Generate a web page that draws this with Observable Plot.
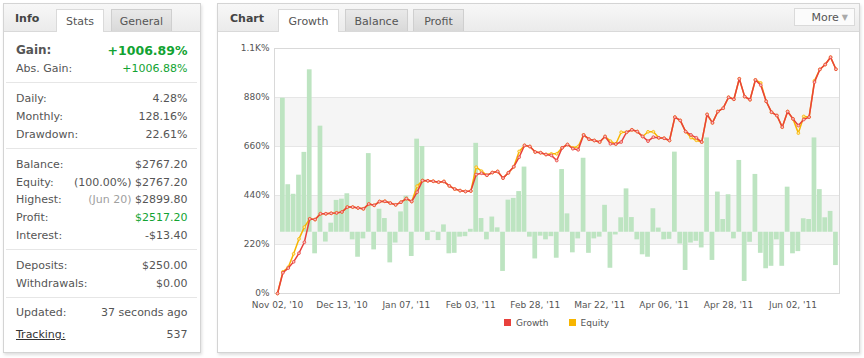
<!DOCTYPE html>
<html><head><meta charset="utf-8">
<script src="https://cdn.jsdelivr.net/npm/d3@7"></script>
<script src="https://cdn.jsdelivr.net/npm/@observablehq/plot@0.6"></script>
<style>
body{margin:0;background:#fff;font-family:"DejaVu Sans",sans-serif;}
#root{position:relative;width:864px;height:358px;overflow:hidden;background:#fff;}
.panel{position:absolute;box-sizing:border-box;border:1px solid #d4d4d4;background:#fff;box-shadow:1px 2px 3px rgba(0,0,0,0.13);}
.head{position:absolute;left:0;top:0;right:0;height:27px;background:linear-gradient(#f7f7f7,#ebebeb);border-bottom:1px solid #d9d9d9;}
.title{position:absolute;top:0;line-height:30px;font-weight:bold;font-size:11px;color:#444;}
.tab{position:absolute;top:5px;height:22px;box-sizing:border-box;border:1px solid #cfcfcf;border-bottom:none;font-size:11px;color:#555;text-align:center;line-height:23px;background:linear-gradient(#e9e9e9,#d9d9d9);}
.tab.on{background:#fff;height:23px;border-color:#dadada;z-index:2;}
.grp{margin:0 3px 0 2px;padding:7px 9.5px 4.5px 10px;border-bottom:1px solid #e6e6e6;}
.row{display:flex;justify-content:space-between;height:17.7px;line-height:17.7px;font-size:11px;color:#555;white-space:nowrap;}
.green{color:#12a332;}
.light{color:#a0a0a0;}
.more{position:absolute;left:576px;top:4px;width:61px;height:18px;box-sizing:border-box;border:1px solid #dadada;background:#fbfbfb;font-size:11px;color:#555;line-height:17px;text-align:right;padding-right:6px;}
.more span{color:#aaa;font-size:8px;margin-left:3px;vertical-align:1px;}
#chartArea{position:absolute;left:0;top:32px;width:640px;height:282px;}
#chartArea svg{position:absolute;left:0;top:0;}
.legend{position:absolute;left:56px;width:565px;top:311.5px;display:flex;justify-content:center;align-items:center;font-size:9px;color:#555;line-height:14px;}
.sw{display:inline-block;width:7px;height:7px;margin-right:5px;}
</style>
</head><body>
<div id="root">
  <div class="panel" style="left:3px;top:3px;width:198px;height:350px">
    <div class="head"></div>
    <div class="title" style="left:11px">Info</div>
    <div class="tab on" style="left:52px;width:48px">Stats</div>
    <div class="tab" style="left:107px;width:61px">General</div>
    <div id="stats" style="position:absolute;left:0;right:0;top:28px"></div>
  </div>
  <div class="panel" style="left:217px;top:3px;width:643px;height:350px">
    <div class="head"></div>
    <div class="title" style="left:12px">Chart</div>
    <div class="tab on" style="left:60px;width:61px">Growth</div>
    <div class="tab" style="left:127px;width:63px">Balance</div>
    <div class="tab" style="left:195px;width:51px">Profit</div>
    <div class="more">More<span>&#9660;</span></div>
    <div id="chartArea"></div>
    <div class="legend">
      <span class="sw" style="background:#e8413c"></span><span>Growth</span>
      <span class="sw" style="background:#f7b500;margin-left:20px"></span><span>Equity</span>
    </div>
  </div>
</div>
<script>
// ---------- data ----------
const xTickIndex = [0, 12, 24, 36, 48, 60, 72, 84, 96];
const xTickLabels = ["Nov 02, '10", "Dec 13, '10", "Jan 07, '11", "Feb 03, '11", "Feb 28, '11", "Mar 22, '11", "Apr 06, '11", "Apr 28, '11", "Jun 02, '11"];
const yTicks = [0, 220, 440, 660, 880, 1100];
const yTickLabels = ["0%", "220%", "440%", "660%", "880%", "1.1K%"];
const shadedBands = [[220, 440], [660, 880]];

const growth = [0,93,114,142,181,230,335,332,358,358,
  360,362,366,388,388,384,380,402,396,413,
  414,406,398,410,426,413,455,507,506,504,
  500,503,483,469,462,458,460,534,540,531,
  543,548,518,542,569,612,665,660,635,632,
  624,620,597,654,669,650,645,712,693,687,
  680,705,672,671,680,724,735,727,705,684,
  702,699,697,687,792,777,727,712,699,680,
  804,766,817,832,881,872,964,884,870,959,
  935,863,814,799,747,817,784,754,781,792,
  949,1006,1028,1061,1006.89];

const equity = [0,97,118,178,245,298,335,332,358,358,
  360,362,366,388,388,384,380,402,396,413,
  414,406,398,410,426,413,482,507,506,504,
  500,503,483,469,462,458,460,567,549,531,
  543,548,518,542,569,638,665,660,635,632,
  624,627,627,654,669,654,660,712,693,687,
  680,705,684,671,724,724,735,727,705,726,
  726,699,697,687,792,777,727,700,688,680,
  804,766,817,832,881,872,964,884,870,959,
  945,863,814,799,747,817,784,720,795,792,
  955,1006,1028,1061,1006.88];

// daily bars (secondary axis), for points 1..104
const daily = [54.7,19.4,15.5,23.3,32.6,66.3,-8.8,43.3,-4.0,3.7,
  13.0,13.5,15.7,-3.1,-10.2,-2.7,32.1,-7.2,9.4,5.6,
  -12.5,-4.4,8.3,14.7,-9.9,38.0,35.0,-3.4,0.5,-3.4,
  3.0,-8.8,-8.6,-2.0,-1.8,1.2,36.3,5.6,-3.1,6.2,
  1.8,-16.0,13.1,13.8,16.6,26.6,-2.0,-10.9,-1.6,-3.1,
  -1.8,-10.6,25.6,7.5,-8.4,-2.7,30.2,-8.6,-2.7,-2.0,
  11.0,-14.7,-1.1,5.9,17.7,6.0,-3.1,-9.2,-10.2,9.6,
  1.7,-3.1,-2.9,32.7,-4.8,-15.6,-4.4,-3.7,-6.4,38.5,
  -11.5,16.4,5.2,15.3,-2.7,29.3,-20.1,-4.1,23.6,-8.6,
  -14.9,-13.9,-3.1,-13.9,18.4,-8.8,-7.9,5.5,5.2,38.5,
  17.4,5.9,8.5,-13.6];
const dailyDomain = [-25, 75];

const statGroups = [
  [["Gain:", "", "+1006.89%"], ["Abs. Gain:", "", "+1006.88%"]],
  [["Daily:", "", "4.28%"], ["Monthly:", "", "128.16%"], ["Drawdown:", "", "22.61%"]],
  [["Balance:", "", "$2767.20"], ["Equity:", "(100.00%)", "$2767.20"], ["Highest:", "(Jun 20)", "$2899.80"], ["Profit:", "", "$2517.20"], ["Interest:", "", "-$13.40"]],
  [["Deposits:", "", "$250.00"], ["Withdrawals:", "", "$0.00"]],
  [["Updated:", "", "37 seconds ago"], ["Tracking:", "", "537"]]
];

// ---------- stats panel ----------
const statsEl = document.getElementById("stats");
statGroups.forEach((g, gi) => {
  const grp = document.createElement("div");
  grp.className = "grp";
  if (gi === 0) { grp.style.paddingTop = "9.2px"; }
  if (gi === statGroups.length - 1) { grp.style.borderBottom = "none"; grp.style.paddingTop = "6px"; }
  g.forEach(([label, pre, val], ri) => {
    const row = document.createElement("div");
    row.className = "row";
    const l = document.createElement("span");
    const v = document.createElement("span");
    l.textContent = label;
    if (pre) {
      const p = document.createElement("span");
      p.textContent = pre + " ";
      if (label === "Highest:") p.className = "light";
      v.appendChild(p);
    }
    v.appendChild(document.createTextNode(val));
    if (gi === 0 && ri === 0) {
      row.style.height = "19px"; row.style.lineHeight = "19px";
      l.style.fontWeight = "bold"; l.style.fontSize = "12px";
      v.style.fontWeight = "bold"; v.style.fontSize = "12.5px";
      v.className = "green";
    }
    if (gi === 0 && ri === 1) v.className = "green";
    if (label === "Profit:") v.className = "green";
    if (label === "Tracking:") {
      l.style.textDecoration = "underline"; l.style.color = "#333";
      row.style.marginTop = "5px";
    }
    row.appendChild(l); row.appendChild(v);
    grp.appendChild(row);
  });
  statsEl.appendChild(grp);
});

// ---------- chart ----------
const growthData = growth.map((v, i) => ({i, v}));
const equityData = equity.map((v, i) => ({i, v}));
const barData = daily.map((v, k) => ({i: k + 1, v}));
const bandData = shadedBands.map(([a, b]) => ({a, b}));
const xDomain = [-0.56, 104.66];

const common = {
  width: 640, height: 282,
  marginLeft: 56, marginRight: 19, marginTop: 12, marginBottom: 25,
  style: {background: "transparent", fontFamily: "DejaVu Sans", fontSize: "9px", color: "#555", overflow: "visible"}
};

const back = Plot.plot({
  ...common,
  x: {domain: xDomain, ticks: xTickIndex, tickFormat: d => xTickLabels[xTickIndex.indexOf(d)], tickSize: 0, tickPadding: 8, label: null},
  y: {domain: [0, 1100], ticks: yTicks, tickFormat: d => yTickLabels[yTicks.indexOf(d)], tickSize: 0, tickPadding: 5, label: null},
  marks: [
    Plot.rect(bandData, {x1: () => xDomain[0], x2: () => xDomain[1], y1: "a", y2: "b", fill: "#f5f5f5"}),
    Plot.ruleY(yTicks, {stroke: "#e6e6e6"})
  ]
});

const bars = Plot.plot({
  ...common,
  x: {domain: xDomain, axis: null},
  y: {domain: dailyDomain, axis: null},
  marks: [
    Plot.rect(barData, {x1: d => d.i - 0.44, x2: d => d.i + 0.44, y1: () => 0, y2: "v", fill: "#bde4c1"})
  ]
});

const lines = Plot.plot({
  ...common,
  x: {domain: xDomain, axis: null},
  y: {domain: [0, 1100], axis: null},
  marks: [
    Plot.frame({stroke: "#d9d9d9"}),
    Plot.line(equityData, {x: "i", y: "v", stroke: "#f7b500", strokeWidth: 1.5}),
    Plot.dot(equityData, {x: "i", y: "v", r: 1.4, stroke: "#f7b500", strokeWidth: 0.8, fill: "#fde7a0"}),
    Plot.line(growthData, {x: "i", y: "v", stroke: "#e8413c", strokeWidth: 1.5}),
    Plot.dot(growthData, {x: "i", y: "v", r: 1.4, stroke: "#e8413c", strokeWidth: 0.8, fill: "#f8c4c1"})
  ]
});

const area = document.getElementById("chartArea");
area.appendChild(back);
area.appendChild(bars);
area.appendChild(lines);
</script>
</body></html>
